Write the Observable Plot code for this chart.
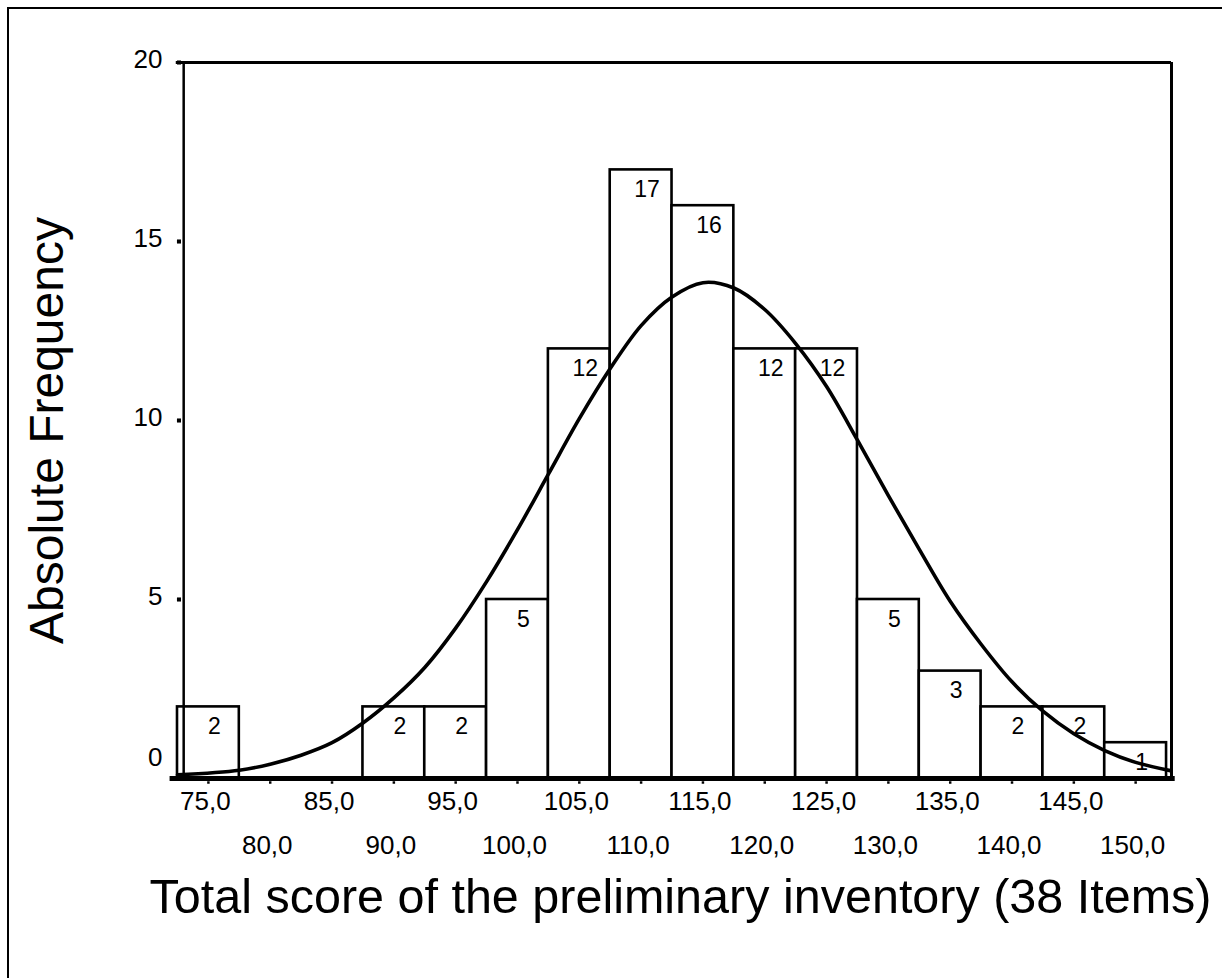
<!DOCTYPE html>
<html><head><meta charset="utf-8">
<script src="https://cdn.jsdelivr.net/npm/d3@7"></script>
<script src="https://cdn.jsdelivr.net/npm/@observablehq/plot@0.6"></script>
<style>
html,body{margin:0;padding:0;background:#fff;}
#wrap{position:relative;width:1222px;height:978px;overflow:hidden;}
#scanframe{position:absolute;left:7px;top:7px;width:1240px;height:1000px;border-left:2px solid #000;border-top:2px solid #000;pointer-events:none;}
</style></head>
<body><div id="wrap"><div id="chart"></div><div id="scanframe"></div></div>
<script>
// Histogram bins (centres) and absolute frequencies
const binCenters = [75, 80, 85, 90, 95, 100, 105, 110, 115, 120, 125, 130, 135, 140, 145, 150];
const counts     = [2, 0, 0, 2, 2, 5, 12, 17, 16, 12, 12, 5, 3, 2, 2, 1];
const tickLabels = ["75,0","80,0","85,0","90,0","95,0","100,0","105,0","110,0","115,0","120,0","125,0","130,0","135,0","140,0","145,0","150,0"];
const yTicks = [0, 5, 10, 15, 20];
// Normal curve
const curveX = [72.5, 77.5, 80, 82.5, 85, 87.5, 90, 92.5, 95, 97.5, 100, 102.5, 105, 107.5, 110, 112.5, 115, 117.5, 120, 122.5, 125, 127.5, 130, 132.5, 135, 137.5, 140, 142.5, 145, 147.5, 150, 152.8];
const curveY = [0.1, 0.23, 0.4, 0.65, 1.0, 1.55, 2.25, 3.1, 4.2, 5.5, 6.95, 8.5, 10.05, 11.45, 12.65, 13.45, 13.85, 13.7, 13.1, 12.15, 10.95, 9.45, 7.9, 6.4, 4.95, 3.75, 2.7, 1.88, 1.25, 0.78, 0.45, 0.22];
const yTitle = "Absolute Frequency";
const xTitle = "Total score of the preliminary inventory (38 Items)";

const binWidth = 5;
const bars = binCenters.map((x, i) => ({x, count: counts[i]})).filter(d => d.count > 0);
const ticks = binCenters.map((x, i) => ({x, label: tickLabels[i], row: i % 2}));
const curve = curveX.map((x, i) => ({x, y: curveY[i]}));

const font = "'Liberation Sans', Arial, Helvetica, sans-serif";
const xL = 72.5, xR = 152.9;

const chart = Plot.plot({
  width: 1222, height: 978,
  marginLeft: 177, marginRight: 51, marginTop: 62, marginBottom: 200,
  x: {domain: [xL, xR], axis: null},
  y: {domain: [0, 20], axis: null},
  style: {fontFamily: font, background: "white", color: "black"},
  marks: [
    Plot.rect(bars, {x1: d => d.x - binWidth / 2, x2: d => d.x + binWidth / 2, y1: () => 0, y2: "count", fill: "white", stroke: "black", strokeWidth: 2.6}),
    Plot.text(bars, {x: "x", y: "count", text: d => String(d.count), dx: 6, dy: 20, fontSize: 23, fill: "black"}),
    Plot.line(curve, {x: "x", y: "y", curve: "catmull-rom", stroke: "black", strokeWidth: 3.6}),
    // frame
    Plot.ruleX([73], {y1: 0, y2: 20, stroke: "black", strokeWidth: 2.5}),
    Plot.ruleX([xR], {y1: 0, y2: 20, stroke: "black", strokeWidth: 3}),
    Plot.ruleY([20], {x1: 72.4, x2: xR, stroke: "black", strokeWidth: 3}),
    Plot.ruleY([0], {x1: 71.9, x2: 153.2, stroke: "black", strokeWidth: 5}),
    // y ticks and labels
    Plot.dot(yTicks, {x: () => 72.62, y: d => d, symbol: "square", r: 2.3, fill: "black", stroke: null}),
    Plot.text(yTicks.filter(d => d > 0), {x: () => xL, y: d => d, text: d => String(d), textAnchor: "end", dx: -15, dy: -3, fontSize: 26, fill: "black"}),
    Plot.text(yTicks.filter(d => d === 0), {x: () => xL, y: d => d, text: d => String(d), textAnchor: "end", dx: -15, dy: -21, fontSize: 26, fill: "black"}),
    // x ticks and staggered labels
    Plot.dot(ticks, {x: "x", y: () => 0, dy: 4, symbol: "square", r: 1.4, fill: "black", stroke: null}),
    Plot.text(ticks.filter(d => d.row === 0), {x: "x", y: () => 0, text: "label", dx: -3, dy: 23, fontSize: 26, fill: "black"}),
    Plot.text(ticks.filter(d => d.row === 1), {x: "x", y: () => 0, text: "label", dx: -3, dy: 67, fontSize: 26, fill: "black"}),
    // titles
    Plot.text([xTitle], {frameAnchor: "bottom", text: d => d, textAnchor: "middle", lineAnchor: "middle", dx: 6, dy: 119, fontSize: 48.5, fill: "black"}),
    Plot.text([yTitle], {frameAnchor: "left", text: d => d, textAnchor: "middle", lineAnchor: "middle", rotate: -90, dx: -130, dy: 10, fontSize: 48, fill: "black"})
  ]
});
document.getElementById("chart").appendChild(chart);
</script>
</body></html>
